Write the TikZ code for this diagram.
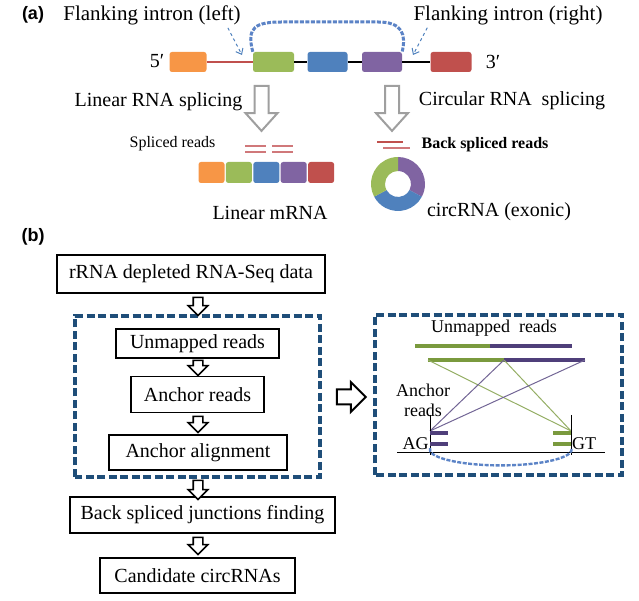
\documentclass[tikz,border=0pt]{standalone}
\usepackage{fontspec}
\setmainfont{Liberation Serif}
\newfontfamily\panelfont{Liberation Sans}
\usetikzlibrary{positioning, arrows.meta, shapes.arrows, calc}
\definecolor{exorange}{HTML}{F79646}
\definecolor{exgreen}{HTML}{9BBB59}
\definecolor{exblue}{HTML}{4F81BD}
\definecolor{expurple}{HTML}{8064A2}
\definecolor{exred}{HTML}{C0504D}
\definecolor{navy}{HTML}{1F4E79}
\definecolor{loopblue}{HTML}{5B83C6}
\definecolor{readgreen}{HTML}{7A9A3E}
\definecolor{readpurple}{HTML}{4F3F7A}
\definecolor{pinkread}{HTML}{D0787A}
\tikzset{
  tag/.style={font=\panelfont\bfseries\fontsize{18}{20}\selectfont, inner sep=0pt},
  lbl/.style={font=\fontsize{20}{22}\selectfont, inner sep=0pt},
  small/.style={font=\fontsize{16}{18}\selectfont, inner sep=0pt},
  panel/.style={font=\fontsize{18}{20}\selectfont, inner sep=0pt, align=center},
  exon/.style={rounded corners=2.5pt, minimum height=20pt, inner sep=0pt},
  mexon/.style={rounded corners=2.5pt, minimum width=26pt, minimum height=21pt, inner sep=0pt},
  stepbox/.style={draw, line width=1.5pt, font=\fontsize{20}{22}\selectfont, inner sep=0pt},
  bigarr/.style={single arrow, draw=gray!75, line width=2pt, fill=white, inner sep=6pt,
                 minimum height=45pt, single arrow head extend=9pt, single arrow tip angle=84},
  flowarr/.style={single arrow, draw, line width=1.6pt, fill=white, inner sep=4pt,
                  minimum height=18pt, single arrow head extend=5pt, single arrow tip angle=90},
  sidearr/.style={single arrow, draw, line width=2pt, fill=white, inner sep=6.5pt,
                  minimum height=29pt, single arrow head extend=7.5pt, single arrow tip angle=90},
  zone/.style={draw=navy, line width=3.6pt, dash pattern=on 8pt off 3.5pt},
  loopline/.style={draw=loopblue, line width=3pt, dash pattern=on 4pt off 1.5pt},
  hint/.style={draw=exblue, line width=1pt, dashed, -{Straight Barb[length=5pt, width=8pt]}},
  read/.style={line width=4pt},
  xline/.style={line width=1pt}
}
\begin{document}
\begin{tikzpicture}[x=1pt, y=1pt]
  \useasboundingbox (0,0) rectangle (639,601);
  % (a) pre-mRNA
  \node[tag] (taga) at (33,586) {(a)};
  \node[lbl, font=\fontsize{21}{23}\selectfont] (lfl) at (152,586) {Flanking intron (left)};
  \node[lbl, font=\fontsize{21}{23}\selectfont] (rfl) at (508,586) {Flanking intron (right)};
  \node[lbl] (five) at (157,540) {5′};
  \node[lbl] (three) at (493,539) {3′};
  \node[exon, fill=exorange, minimum width=37pt] (ex1) at (188,539) {};
  \node[exon, fill=exgreen, minimum width=41pt] (ex2) at (273.5,539) {};
  \node[exon, fill=exblue, minimum width=40pt] (ex3) at (327.5,539) {};
  \node[exon, fill=expurple, minimum width=40pt] (ex4) at (382,539) {};
  \node[exon, fill=exred, minimum width=41pt] (ex5) at (451,539) {};
  \draw[exred, line width=1.6pt] (ex1.east) -- (ex2.west);
  \draw[line width=1.6pt] (ex2.east) -- (ex3.west);
  \draw[line width=1.6pt] (ex3.east) -- (ex4.west);
  \draw[line width=1.6pt] (ex4.east) -- (ex5.west);
  \draw[loopline] (ex2.north west) .. controls (246,574) and (256,579) .. (282,579)
    -- (378,579) .. controls (403,579) and (406,566) .. (ex4.north east);
  \coordinate (lfoot) at (242,546);
  \coordinate (rfoot) at (413,546);
  \draw[hint] ([xshift=-13pt,yshift=-3pt]lfl.south east) -- (lfoot);
  \draw[hint] ([xshift=14pt,yshift=-3pt]rfl.south west) -- (rfoot);
  % splicing
  \node[bigarr, rotate=-90] (arrl) at (261.5,496.5) {};
  \node[bigarr, rotate=-90] (arrr) at (392,496.5) {};
  \node[lbl] (lin) at (158.5,499) {Linear RNA splicing};
  \node[lbl] (circ) at (512,500) {Circular RNA\ \ splicing};
  % linear product
  \node[small] (spl) at (172.5,457) {Spliced reads};
  \foreach \x in {245,272}
    \foreach \y in {455,449}
      \draw[pinkread, line width=1.8pt] (\x,\y) -- ++(21,0);
  \node[mexon, fill=exorange] (m1) at (211.5,428.5) {};
  \foreach \c [count=\i from 2, evaluate=\i as \j using int(\i-1)] in {exgreen,exblue,expurple,exred}
    \node[mexon, fill=\c, right=1pt of m\j] (m\i) {};
  \node[lbl] (linm) at (270,388) {Linear mRNA};
  % circular product
  \node[small, font=\bfseries\fontsize{16}{18}\selectfont] (bsr) at (485,456) {Back spliced reads};
  \draw[exred, line width=1.6pt] (377,459) -- (403,459);
  \draw[pinkread, line width=1.6pt] (383,453) -- (410,453);
  \coordinate (dc) at (398,417);
  \foreach \a/\b/\c in {90/-28/expurple, -28/-152/exblue, -152/-270/exgreen}
    \fill[\c] ($(dc)+(\a:27)$) arc[start angle=\a, end angle=\b, radius=27]
      -- ($(dc)+(\b:13)$) arc[start angle=\b, end angle=\a, radius=13] -- cycle;
  \node[lbl] (circm) at (499,389) {circRNA (exonic)};
  % (b) pipeline
  \node[tag] (tagb) at (33,364) {(b)};
  \node[stepbox, minimum width=268pt, minimum height=38pt] (data) at (191,327) {rRNA depleted RNA-Seq data};
  \draw[zone] (75,124) rectangle (320,285);
  \node[stepbox, minimum width=163pt, minimum height=29pt] (unm) at (197.5,257.5) {Unmapped reads};
  \node[stepbox, minimum width=133pt, minimum height=36pt] (anc) at (197.5,206.5) {Anchor reads};
  \node[stepbox, minimum width=178pt, minimum height=35pt] (aln) at (198,148.5) {Anchor alignment};
  \node[stepbox, minimum width=265pt, minimum height=36pt] (bsj) at (202.5,86) {Back spliced junctions finding};
  \node[stepbox, minimum width=195pt, minimum height=35pt] (cand) at (197.5,25.5) {Candidate circRNAs};
  \node[flowarr, rotate=-90] (f1) at (198,297) {};
  \node[flowarr, rotate=-90, minimum height=15pt] (f2) at (198,235.5) {};
  \node[flowarr, rotate=-90, minimum height=16pt] (f3) at (198,179) {};
  \node[flowarr, rotate=-90, minimum height=19pt] (f4) at (198,113.5) {};
  \node[flowarr, rotate=-90, minimum height=17pt] (f5) at (198,57.5) {};
  \node[sidearr] (side) at (347.5,204) {};
  % anchor detail
  \draw[zone] (375,126) rectangle (622,286);
  \node[panel] (unm2) at (494,273) {Unmapped\ \ reads};
  \coordinate (r1a) at (415,255); \coordinate (r1j) at (490,255); \coordinate (r1b) at (572,255);
  \coordinate (r2a) at (428,241); \coordinate (r2j) at (504,241); \coordinate (r2b) at (585,241);
  \draw[read, readgreen] (r1a) -- (r1j);
  \draw[read, readpurple] (r1j) -- (r1b);
  \draw[read, readgreen] (r2a) -- (r2j);
  \draw[read, readpurple] (r2j) -- (r2b);
  \coordinate (ag) at (430,170);
  \coordinate (gt) at (571,170);
  \draw[xline, readgreen!80] (r2a) -- (gt);
  \draw[xline, readgreen!80] (r2j) -- (gt);
  \draw[xline, readpurple!80] (r2j) -- (ag);
  \draw[xline, readpurple!80] (r2b) -- (ag);
  \draw[line width=0.9pt] (430,186) -- (430,146);
  \draw[line width=0.9pt] (571,186) -- (571,146);
  \draw[line width=0.9pt] (397,149) -- (605,149);
  \foreach \y in {168,157} {
    \draw[read, readpurple] (430,\y) -- (448,\y);
    \draw[read, readgreen] (553,\y) -- (571,\y);
  }
  \node[panel] (agt) at (415.5,157) {AG};
  \node[panel] (gtt) at (584,157) {GT};
  \node[panel, font=\fontsize{18}{20}\selectfont] (ancr) at (423,201) {Anchor\\reads};
  \draw[loopline, line width=2.4pt] (430,153) arc[start angle=175, end angle=365, x radius=71, y radius=16];
\end{tikzpicture}
\end{document}
